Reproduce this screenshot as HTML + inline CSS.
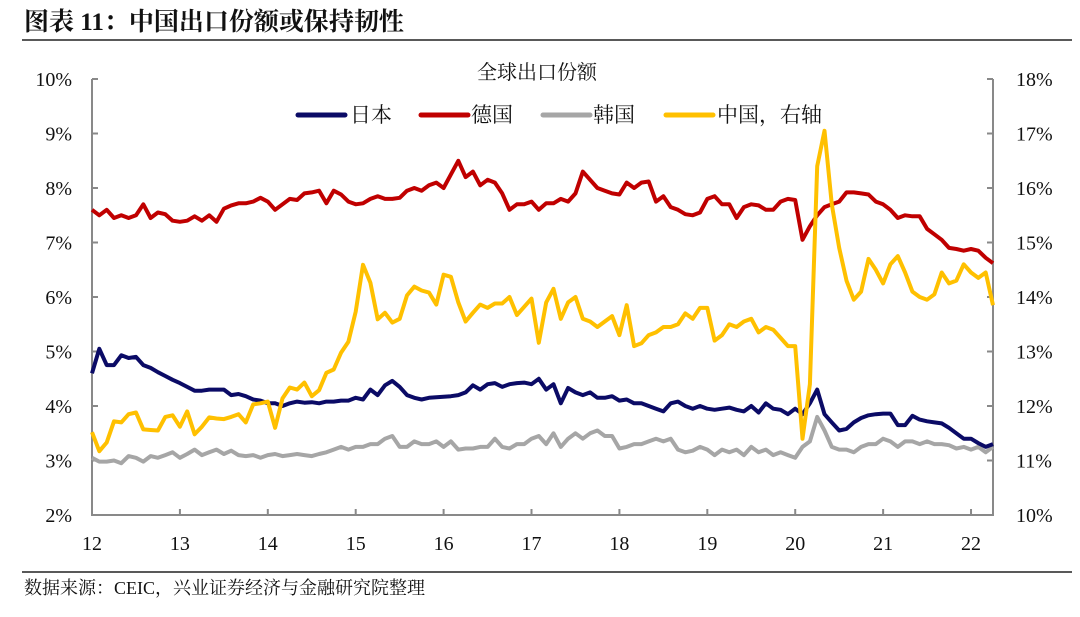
<!DOCTYPE html>
<html><head><meta charset="utf-8"><style>
body{margin:0;background:#fff;width:1080px;height:612px;overflow:hidden;font-family:"Liberation Serif","Noto Serif CJK SC",serif}
</style></head><body>
<svg width="1080" height="612" xmlns="http://www.w3.org/2000/svg">
<text x="24" y="30" font-size="25" font-weight="bold" fill="#111" font-family="Liberation Serif, Noto Serif CJK SC, serif">图表 11：中国出口份额或保持韧性</text>
<line x1="22" y1="40" x2="1072" y2="40" stroke="#222" stroke-width="1.5"/>
<g id="axes"></g>
<g id="series"></g>
<text x="537" y="79" font-size="20" text-anchor="middle" fill="#111">全球出口份额</text>
<g font-size="21" fill="#111">
<line x1="298" y1="115" x2="345" y2="115" stroke="#0b0b66" stroke-width="5" stroke-linecap="round"/>
<text x="350" y="122">日本</text>
<line x1="421" y1="115" x2="468" y2="115" stroke="#c00000" stroke-width="5" stroke-linecap="round"/>
<text x="471" y="122">德国</text>
<line x1="543" y1="115" x2="590" y2="115" stroke="#a6a6a6" stroke-width="5" stroke-linecap="round"/>
<text x="593" y="122">韩国</text>
<line x1="666" y1="115" x2="713" y2="115" stroke="#ffc000" stroke-width="5" stroke-linecap="round"/>
<text x="717" y="122">中国，右轴</text>
</g>
<line x1="22" y1="572" x2="1072" y2="572" stroke="#222" stroke-width="1.5"/>
<text x="24" y="594" font-size="18" fill="#111">数据来源：CEIC，兴业证券经济与金融研究院整理</text>
</svg>
<script>
const xLabels=["12","13","14","15","16","17","18","19","20","21","22"];
const leftTicks=["2%","3%","4%","5%","6%","7%","8%","9%","10%"];
const rightTicks=["10%","11%","12%","13%","14%","15%","16%","17%","18%"];
const japan=[4.6,5.05,4.75,4.75,4.93,4.88,4.9,4.75,4.7,4.62,4.55,4.48,
4.42,4.35,4.28,4.28,4.3,4.3,4.3,4.2,4.22,4.18,4.12,4.1,
4.05,4.05,4.0,4.05,4.08,4.06,4.07,4.05,4.08,4.08,4.1,4.1,
4.15,4.12,4.3,4.2,4.38,4.46,4.35,4.2,4.15,4.12,4.15,4.16,
4.17,4.18,4.2,4.25,4.38,4.3,4.4,4.42,4.35,4.4,4.42,4.43,
4.4,4.5,4.3,4.4,4.05,4.33,4.25,4.2,4.25,4.15,4.15,4.18,
4.1,4.12,4.05,4.05,4.0,3.95,3.9,4.05,4.08,4.0,3.95,4.0,
3.95,3.93,3.95,3.97,3.93,3.9,4.0,3.88,4.05,3.95,3.93,3.85,
3.95,3.85,4.05,4.3,3.85,3.7,3.55,3.58,3.7,3.78,3.83,3.85,
3.86,3.86,3.65,3.65,3.82,3.75,3.72,3.7,3.68,3.6,3.5,3.4,
3.4,3.32,3.25,3.3];
const germany=[7.6,7.5,7.6,7.45,7.5,7.45,7.5,7.7,7.45,7.55,7.52,7.4,
7.38,7.4,7.48,7.4,7.5,7.38,7.62,7.68,7.72,7.72,7.75,7.82,
7.75,7.6,7.7,7.8,7.78,7.9,7.92,7.95,7.72,7.95,7.88,7.75,
7.7,7.72,7.8,7.85,7.8,7.8,7.82,7.95,8.0,7.95,8.05,8.1,
8.0,8.25,8.5,8.2,8.3,8.05,8.15,8.1,7.9,7.6,7.7,7.7,
7.75,7.6,7.72,7.72,7.8,7.75,7.9,8.3,8.15,8.0,7.95,7.9,
7.88,8.1,8.0,8.1,8.12,7.75,7.85,7.65,7.6,7.52,7.5,7.55,
7.8,7.85,7.7,7.7,7.45,7.65,7.7,7.68,7.6,7.6,7.75,7.8,
7.78,7.05,7.3,7.5,7.65,7.7,7.75,7.92,7.92,7.9,7.88,7.75,
7.7,7.6,7.45,7.5,7.48,7.48,7.25,7.15,7.05,6.9,6.88,6.85,
6.88,6.85,6.72,6.62];
const korea=[3.05,2.98,2.98,3.0,2.95,3.08,3.05,2.98,3.08,3.05,3.1,3.15,
3.05,3.12,3.2,3.1,3.15,3.2,3.12,3.18,3.1,3.08,3.1,3.05,
3.1,3.12,3.08,3.1,3.12,3.1,3.08,3.12,3.15,3.2,3.25,3.2,
3.25,3.25,3.3,3.3,3.4,3.45,3.25,3.25,3.35,3.3,3.3,3.35,
3.25,3.35,3.2,3.22,3.22,3.25,3.25,3.4,3.25,3.22,3.3,3.3,
3.4,3.45,3.3,3.5,3.25,3.4,3.5,3.4,3.5,3.55,3.45,3.45,
3.22,3.25,3.3,3.3,3.35,3.4,3.35,3.4,3.2,3.15,3.18,3.25,
3.2,3.1,3.2,3.15,3.2,3.1,3.25,3.15,3.2,3.1,3.15,3.1,
3.05,3.25,3.35,3.8,3.55,3.25,3.2,3.2,3.15,3.25,3.3,3.3,
3.4,3.35,3.25,3.35,3.35,3.3,3.35,3.3,3.3,3.28,3.22,3.25,
3.2,3.25,3.15,3.25];
const china=[11.52,11.17,11.33,11.72,11.7,11.85,11.88,11.57,11.56,11.55,11.8,11.83,
11.62,11.9,11.48,11.62,11.79,11.77,11.76,11.8,11.85,11.7,12.03,12.05,
12.08,11.6,12.14,12.34,12.3,12.43,12.18,12.29,12.61,12.67,12.98,13.18,
13.73,14.59,14.26,13.59,13.71,13.53,13.6,14.03,14.19,14.12,14.08,13.86,
14.41,14.37,13.9,13.55,13.71,13.86,13.8,13.88,13.88,14.0,13.67,13.82,
13.97,13.16,13.9,14.15,13.6,13.9,14.0,13.6,13.55,13.45,13.55,13.65,
13.3,13.85,13.1,13.15,13.3,13.35,13.45,13.45,13.5,13.7,13.6,13.8,
13.8,13.2,13.3,13.5,13.45,13.55,13.6,13.35,13.45,13.4,13.25,13.1,
13.1,11.4,12.4,16.4,17.05,15.7,14.9,14.3,13.95,14.1,14.7,14.5,
14.25,14.6,14.75,14.45,14.1,14.0,13.95,14.05,14.45,14.25,14.3,14.6,
14.45,14.35,14.45,13.85];
const NS="http://www.w3.org/2000/svg";
const X0=92,X1=993,Y0=515,Y1=79;
const monthW=(X1-X0)/123;
function xScale(i){return X0+i*monthW;}
function yL(v){return Y0-(v-2)/8*(Y0-Y1);}
function yR(v){return Y0-(v-10)/8*(Y0-Y1);}
function mk(t,attrs,parent){const e=document.createElementNS(NS,t);for(const k in attrs)e.setAttribute(k,attrs[k]);parent.appendChild(e);return e;}
const ax=document.getElementById('axes');
let e=mk('path',{d:`M${X0} ${Y1}V${Y0}H${X1}V${Y1}`,fill:'none',stroke:'#898989','stroke-width':2},ax);


leftTicks.forEach((t,i)=>{const y=yL(2+i);
 let l=mk('line',{x1:X0,x2:X0+6,y1:y,y2:y,stroke:'#898989','stroke-width':2},ax);
 
 
 let tx=mk('text',{x:72,y:y+7,'text-anchor':'end','font-size':20,fill:'#111'},ax);tx.textContent=t;
 
 
});
rightTicks.forEach((t,i)=>{const y=yR(10+i);
 let l=mk('line',{x1:X1-6,x2:X1,y1:y,y2:y,stroke:'#898989','stroke-width':2},ax);
 
 
 let tx=mk('text',{x:1016,y:y+7,'font-size':20,fill:'#111'},ax);tx.textContent=t;
 
 
});
xLabels.forEach((t,i)=>{const x=xScale(i*12);
 let l=mk('line',{x1:x,x2:x,y1:Y0,y2:Y0-6,stroke:'#898989','stroke-width':2},ax);
 
 
 let tx=mk('text',{x:x,y:550,'text-anchor':'middle','font-size':20,fill:'#111'},ax);tx.textContent=t;
 
 
});
const sg=document.getElementById('series');
function line(data,fy,color,name){
 const d=data.map((v,i)=>(i?'L':'M')+xScale(i).toFixed(1)+' '+fy(v).toFixed(1)).join('');
 const p=mk('path',{d:d,fill:'none',stroke:color,'stroke-width':4,'stroke-linejoin':'round'},sg);
 
 
}
line(korea,yL,'#a6a6a6','korea-line');
line(japan,yL,'#0b0b66','japan-line');
line(germany,yL,'#c00000','germany-line');
line(china,yR,'#ffc000','china-line');
</script>
</body></html>
